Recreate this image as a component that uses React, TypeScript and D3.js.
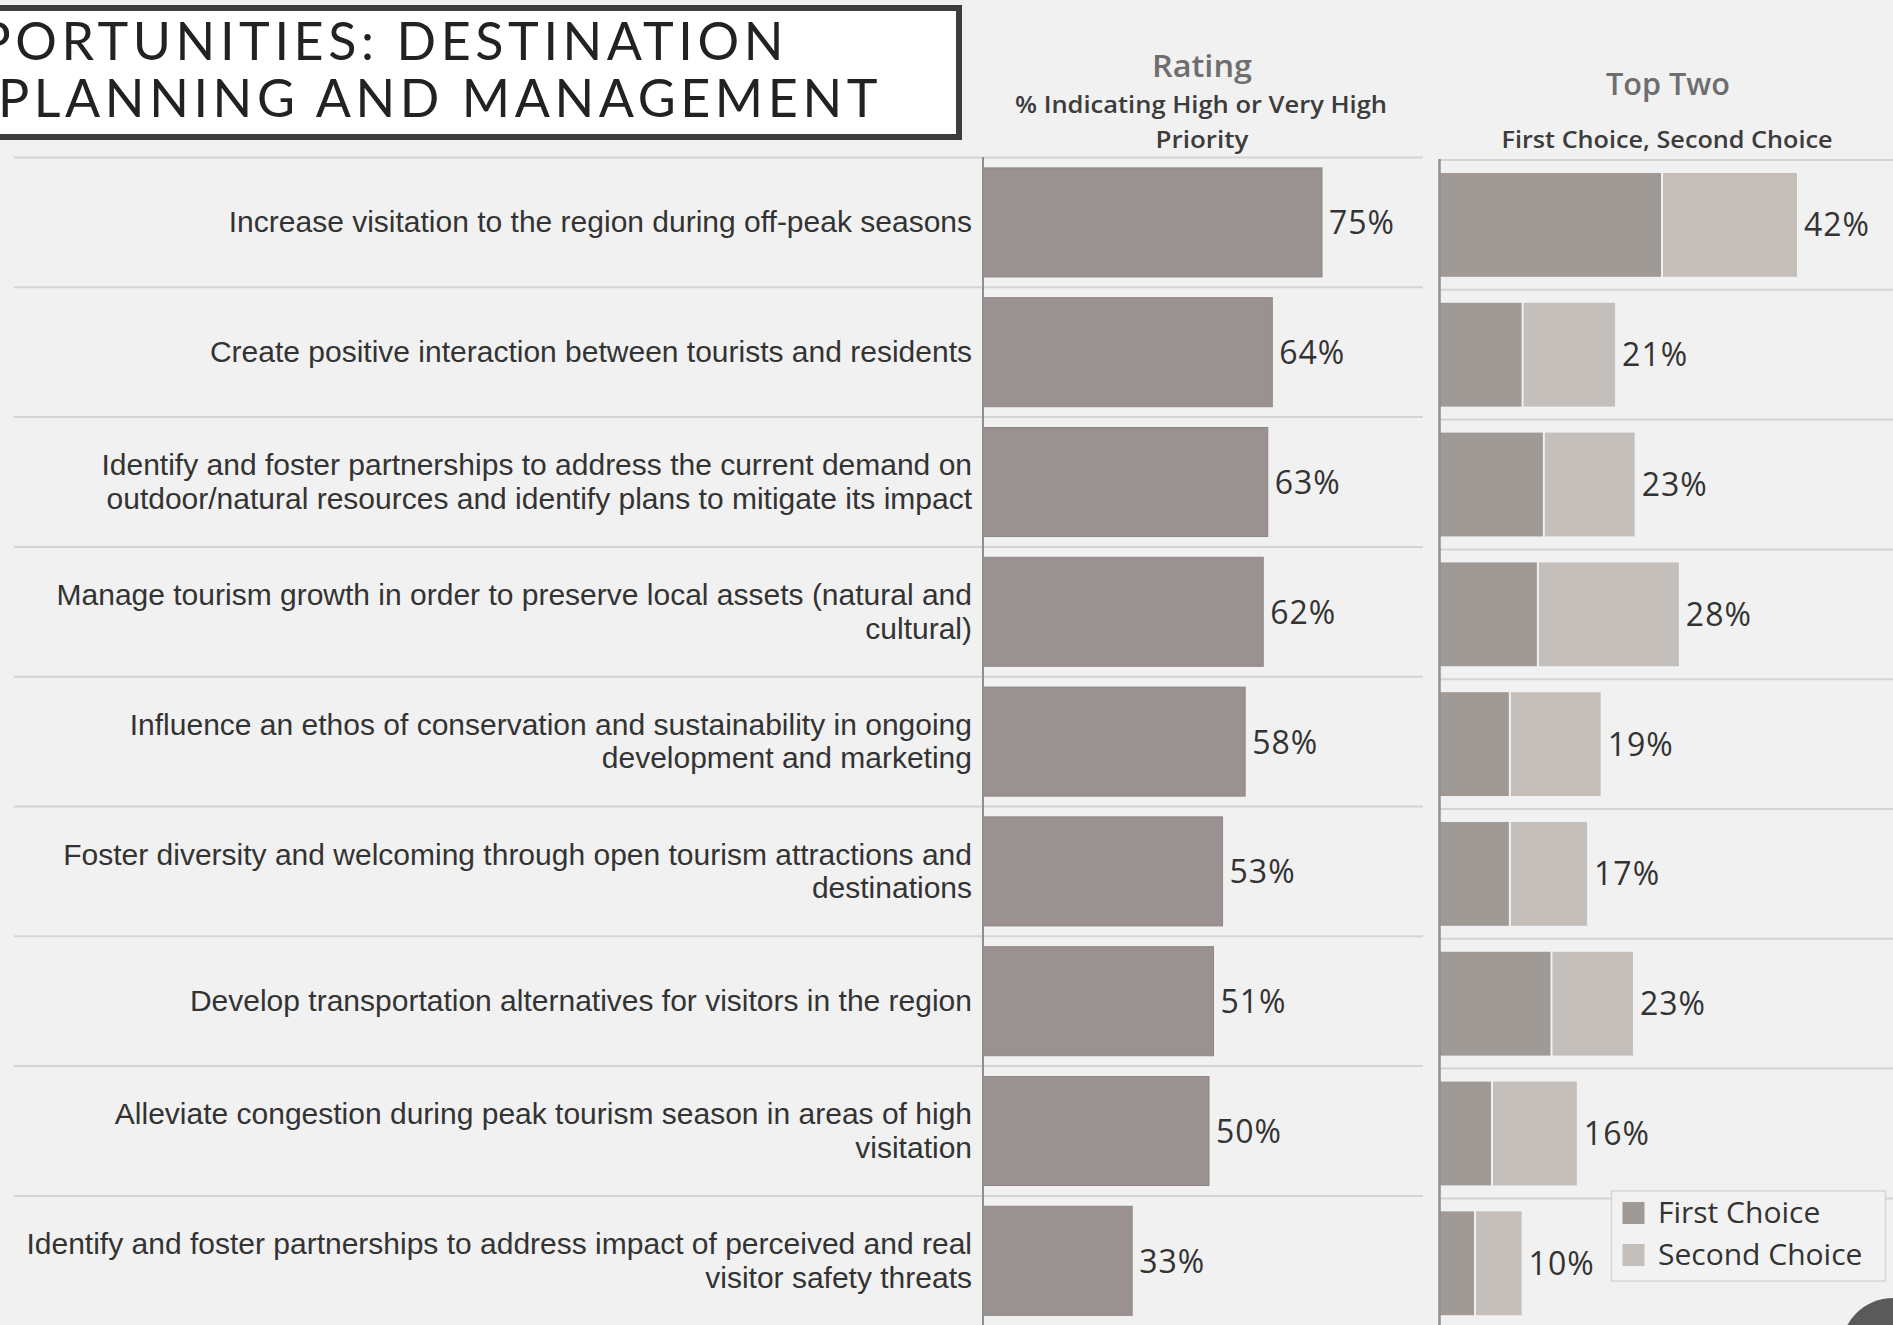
import React, { useEffect, useRef } from 'react';
import * as d3 from 'd3';

// priority statements (one entry per line of the wrapped label)
const priorities: string[][] = [
    ['Increase visitation to the region during off-peak seasons'],
    ['Create positive interaction between tourists and residents'],
    ['Identify and foster partnerships to address the current demand on',
        'outdoor/natural resources and identify plans to mitigate its impact'],
    ['Manage tourism growth in order to preserve local assets (natural and', 'cultural)'],
    ['Influence an ethos of conservation and sustainability in ongoing', 'development and marketing'],
    ['Foster diversity and welcoming through open tourism attractions and', 'destinations'],
    ['Develop transportation alternatives for visitors in the region'],
    ['Alleviate congestion during peak tourism season in areas of high', 'visitation'],
    ['Identify and foster partnerships to address impact of perceived and real', 'visitor safety threats'],
];

// % indicating high or very high priority
const ratingPct = [75, 64, 63, 62, 58, 53, 51, 50, 33];

// top two: first choice / second choice shares
const firstChoicePct = [26, 9.6, 12.1, 11.4, 8.1, 8.1, 13.0, 6.0, 4.0];
const secondChoicePct = [16, 11.0, 10.8, 16.7, 10.8, 9.2, 9.7, 10.1, 5.6];

const legendLabels = ['First Choice', 'Second Choice'];
const titleLines = ['OPPORTUNITIES: DESTINATION', 'PLANNING AND MANAGEMENT'];

const W = 1893, H = 1325;

const App = () => {
    const ref = useRef<SVGSVGElement | null>(null);

    useEffect(() => {
        const svg = d3.select(ref.current);
        svg.selectAll('*').remove();

        const bg = '#f1f1f1';
        const textDark = '#333333';
        const gridColor = '#d4d4d4';
        const axisColor = '#8f8f8f';
        const colRating = '#9a9290';
        const colFirst = '#a09a97';
        const colSecond = '#c4bfbb';
        const labelFont = '"Liberation Sans", Arial, sans-serif';
        const numFont = '"Open Sans", "Noto Sans", sans-serif';

        svg.append('rect').attr('width', W).attr('height', H).attr('fill', bg);

        const rows = d3.range(priorities.length);
        const pitch = 129.8;

        // row bands for the rating panel and the top-two panel (slightly offset, like separate sheets)
        const ratingY = d3.scaleBand<number>()
            .domain(rows)
            .range([157.5, 157.5 + rows.length * pitch])
            .paddingInner(0.16)
            .paddingOuter(0.08);
        const topY = d3.scaleBand<number>()
            .domain(rows)
            .range([160, 160 + rows.length * pitch])
            .paddingInner(0.2)
            .paddingOuter(0.1);

        const ratingX = d3.scaleLinear().domain([0, 100]).range([983, 983 + 452]);
        const topX = d3.scaleLinear().domain([0, 100]).range([1440, 1440 + 850]);

        const ratingCenter = (i: number) => (ratingY(i) as number) + ratingY.bandwidth() / 2;
        const topCenter = (i: number) => (topY(i) as number) + topY.bandwidth() / 2;

        // row separators: labels + rating panel
        svg.append('g')
            .selectAll('line')
            .data(rows)
            .join('line')
            .attr('x1', 14)
            .attr('x2', 1423)
            .attr('y1', (i) => 157.5 + i * ratingY.step())
            .attr('y2', (i) => 157.5 + i * ratingY.step())
            .attr('stroke', gridColor)
            .attr('stroke-width', 2);

        // row separators: top two panel
        svg.append('g')
            .selectAll('line')
            .data(rows)
            .join('line')
            .attr('x1', 1440)
            .attr('x2', W)
            .attr('y1', (i) => 160 + i * topY.step())
            .attr('y2', (i) => 160 + i * topY.step())
            .attr('stroke', gridColor)
            .attr('stroke-width', 2);

        // row labels
        const lineH = 33.5;
        const labels = svg.append('g')
            .attr('font-family', labelFont)
            .attr('font-size', 30)
            .attr('fill', textDark)
            .attr('text-anchor', 'end');
        priorities.forEach((lines, i) => {
            lines.forEach((ln, k) => {
                labels.append('text')
                    .attr('x', 972)
                    .attr('y', ratingCenter(i) + 10 + (k - (lines.length - 1) / 2) * lineH)
                    .text(ln);
            });
        });

        // rating bars
        svg.append('g')
            .selectAll('rect')
            .data(ratingPct)
            .join('rect')
            .attr('x', ratingX(0))
            .attr('y', (d, i) => ratingY(i) as number)
            .attr('width', (d) => ratingX(d) - ratingX(0))
            .attr('height', ratingY.bandwidth())
            .attr('fill', colRating)
            .attr('stroke', '#8d8684')
            .attr('stroke-width', 1);

        svg.append('g')
            .attr('font-family', numFont)
            .attr('font-size', 32)
            .attr('letter-spacing', 1)
            .attr('fill', textDark)
            .selectAll('text')
            .data(ratingPct)
            .join('text')
            .attr('x', (d) => ratingX(d) + 7)
            .attr('y', (d, i) => ratingCenter(i) + 12)
            .text((d) => `${d}%`);

        // top two stacked bars
        const stack = svg.append('g');
        rows.forEach((i) => {
            const f = firstChoicePct[i], s = secondChoicePct[i];
            stack.append('rect')
                .attr('x', topX(0))
                .attr('y', topY(i) as number)
                .attr('width', topX(f) - topX(0))
                .attr('height', topY.bandwidth())
                .attr('fill', colFirst);
            stack.append('rect')
                .attr('x', topX(f) + 2)
                .attr('y', topY(i) as number)
                .attr('width', topX(f + s) - topX(f) - 2)
                .attr('height', topY.bandwidth())
                .attr('fill', colSecond);
        });

        svg.append('g')
            .attr('font-family', numFont)
            .attr('font-size', 32)
            .attr('letter-spacing', 1)
            .attr('fill', textDark)
            .selectAll('text')
            .data(rows)
            .join('text')
            .attr('x', (i) => topX(firstChoicePct[i] + secondChoicePct[i]) + 7)
            .attr('y', (i) => topCenter(i) + 11.5)
            .text((i) => `${Math.round(firstChoicePct[i] + secondChoicePct[i])}%`);

        // axis lines
        svg.append('line')
            .attr('x1', 983).attr('x2', 983)
            .attr('y1', 157).attr('y2', H)
            .attr('stroke', axisColor).attr('stroke-width', 2);
        svg.append('line')
            .attr('x1', 1439.5).attr('x2', 1439.5)
            .attr('y1', 159).attr('y2', H)
            .attr('stroke', axisColor).attr('stroke-width', 2.5);

        // column headers
        const hdr = svg.append('g')
            .attr('font-family', numFont)
            .attr('font-weight', 600)
            .attr('text-anchor', 'middle');
        const header = (txt: string, x: number, y: number, size: number, len: number, fill: string) => {
            hdr.append('text')
                .attr('x', x).attr('y', y)
                .attr('font-size', size)
                .attr('fill', fill)
                .attr('textLength', len)
                .attr('lengthAdjust', 'spacingAndGlyphs')
                .text(txt);
        };
        header('Rating', 1202, 77, 31, 100, '#6e6e6e');
        header('% Indicating High or Very High', 1201, 112.5, 23, 372, '#3c3c3c');
        header('Priority', 1202, 148, 23, 93, '#3c3c3c');
        header('Top Two', 1668, 95, 31, 124, '#6e6e6e');
        header('First Choice, Second Choice', 1667, 148.3, 23, 331, '#3c3c3c');

        // title box
        svg.append('rect')
            .attr('x', -10).attr('y', 8)
            .attr('width', 969).attr('height', 129)
            .attr('fill', '#ffffff')
            .attr('stroke', '#3d3d3d')
            .attr('stroke-width', 6);
        const title = svg.append('g')
            .attr('font-family', 'Lato, "DejaVu Sans", sans-serif')
            .attr('font-size', 52)
            .attr('letter-spacing', 4.6)
            .attr('fill', '#222222')
            .attr('text-anchor', 'end');
        title.append('text').attr('x', 788).attr('y', 60).text(titleLines[0]);
        title.append('text').attr('x', 882).attr('y', 117).text(titleLines[1]);

        // legend
        const lg = svg.append('g');
        lg.append('rect')
            .attr('x', 1611.5).attr('y', 1191)
            .attr('width', 274).attr('height', 90)
            .attr('fill', '#f2f2f2')
            .attr('stroke', '#d5d5d5')
            .attr('stroke-width', 1.5);
        const legendColors = d3.scaleOrdinal<string, string>()
            .domain(legendLabels)
            .range([colFirst, colSecond]);
        legendLabels.forEach((l, k) => {
            lg.append('rect')
                .attr('x', 1622.5).attr('y', 1202 + k * 42)
                .attr('width', 22).attr('height', 22)
                .attr('fill', legendColors(l));
            lg.append('text')
                .attr('x', 1658).attr('y', 1223 + k * 42)
                .attr('font-family', numFont)
                .attr('font-size', 30)
                .attr('fill', textDark)
                .text(l);
        });

        // floating button in the corner
        svg.append('circle')
            .attr('cx', 1893).attr('cy', 1350).attr('r', 52)
            .attr('fill', '#5a5a5a');
    }, []);

    return (
        <svg
            ref={ref}
            width={W}
            height={H}
            style={{ position: 'absolute', left: 0, top: 0, display: 'block' }}
        />
    );
};

export default App;
